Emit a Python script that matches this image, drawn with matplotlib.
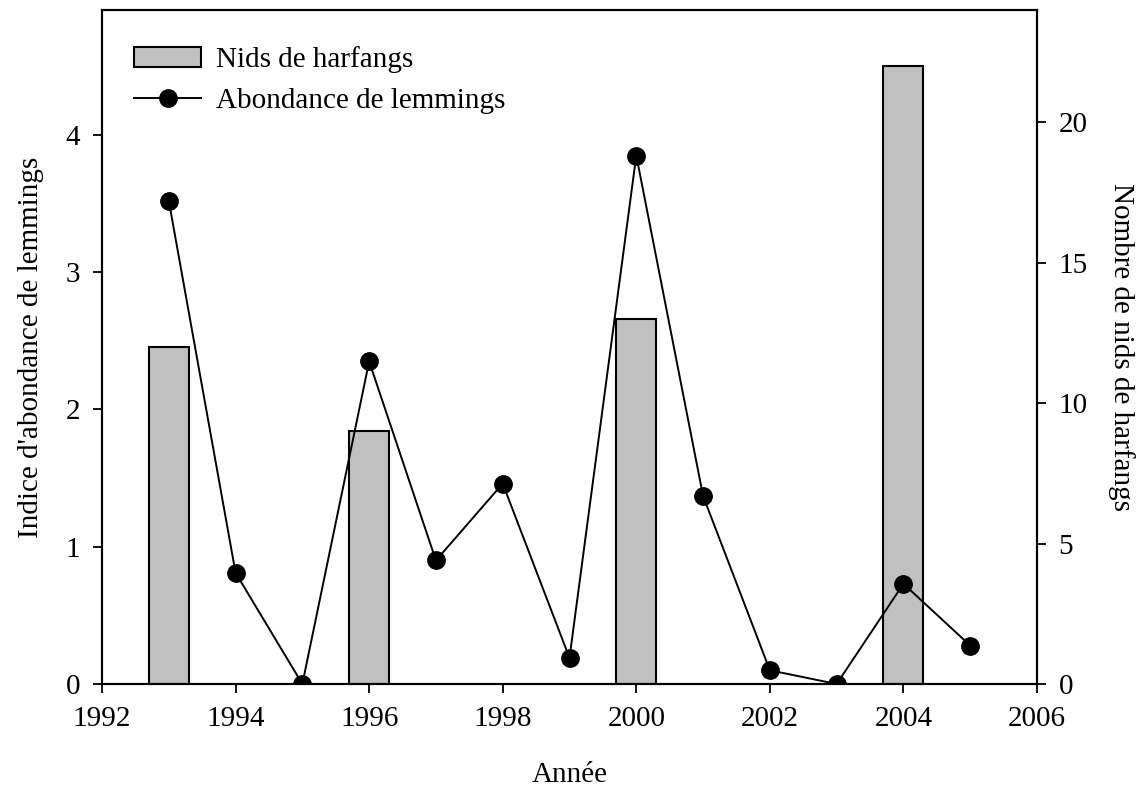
import matplotlib.pyplot as plt
from matplotlib.lines import Line2D
from matplotlib.patches import Patch

plt.rcParams['font.family'] = ['Liberation Serif', 'DejaVu Serif']

# data
years = [1993, 1994, 1995, 1996, 1997, 1998, 1999, 2000, 2001, 2002, 2003, 2004, 2005]
lemmings = [3.52, 0.81, 0.0, 2.35, 0.90, 1.46, 0.19, 3.85, 1.37, 0.10, 0.0, 0.73, 0.28]
nest_years = [1993, 1996, 2000, 2004]
nests = [12, 9, 13, 22]

xticks = [1992, 1994, 1996, 1998, 2000, 2002, 2004, 2006]
fs = 21

fig = plt.figure(figsize=(11.48, 8), dpi=100)
ax = fig.add_axes([102/1148, 116/800, (1037-102)/1148, (684-10)/800])
ax2 = ax.twinx()

ax2.bar(nest_years, nests, width=0.6, color='#c0c0c0', edgecolor='black', linewidth=1.5)
ax2.set_ylim(0, 24)
ax2.set_yticks([0, 5, 10, 15, 20])
ax2.set_ylabel('Nombre de nids de harfangs', fontsize=fs, rotation=270, labelpad=34)

ax.plot(years, lemmings, color='black', lw=1.4, marker='o', ms=12.5, zorder=3)
ax.set_zorder(ax2.get_zorder() + 1)
ax.patch.set_visible(False)
ax.set_xlim(1992, 2006)
ax.set_ylim(0, 4.91)
ax.set_xticks(xticks)
ax.set_yticks([0, 1, 2, 3, 4])
ax.set_xlabel('Année', fontsize=fs, labelpad=22)
ax.set_ylabel("Indice d'abondance de lemmings", fontsize=fs, labelpad=16)

for a in (ax, ax2):
    a.tick_params(direction='out', length=6.5, width=1.3, labelsize=fs, pad=9)
    for s in a.spines.values():
        s.set_linewidth(1.5)

handles = [Patch(facecolor='#c0c0c0', edgecolor='black', linewidth=1.5),
           Line2D([], [], color='black', lw=1.4, marker='o', ms=12.5)]
ax.legend(handles, ['Nids de harfangs', 'Abondance de lemmings'],
          loc='upper left', bbox_to_anchor=(134/1148, 1 - 46/800),
          bbox_transform=fig.transFigure, frameon=False, fontsize=fs,
          handlelength=2.3, handletextpad=0.5, labelspacing=0.5,
          borderpad=0, borderaxespad=0)

fig.savefig('out.png', dpi=100)
